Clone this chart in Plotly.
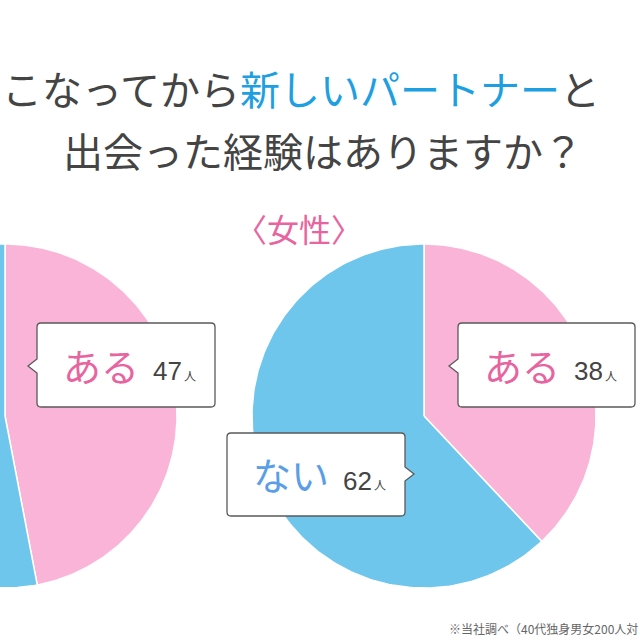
import numpy as np
import plotly.graph_objects as go

# ---- data ----
categories = ["ある", "ない"]
male_counts = [47, 53]
female_counts = [38, 62]
female_title = "〈女性〉"
title_line1_pre = "こなってから"
title_line1_blue = "新しいパートナー"
title_line1_post = "と"
title_line2 = "出会った経験はありますか？"
footnote = "※当社調べ（40代独身男女200人対"
unit = "人"

# ---- style ----
slice_colors = ["#f9b4d7", "#6ec6ec"]
label_colors = ["#e8649f", "#5a9ee6"]
num_color = "#444444"
FONT = "Noto Sans CJK JP"
NUMFONT = "Liberation Sans"
R = 172
pies = [(5, 416, male_counts), (424, 416, female_counts)]

fig = go.Figure()


def wedge(cx, cy, r, a0, a1):
    t = np.linspace(a0, a1, 200)
    xs = np.concatenate([[cx], cx + r * np.sin(t), [cx]])
    ys = np.concatenate([[cy], cy - r * np.cos(t), [cy]])
    return xs, ys


for cx, cy, vals in pies:
    total = sum(vals)
    start = 0.0
    for i, v in enumerate(vals):
        end = start + v / total * 2 * np.pi
        xs, ys = wedge(cx, cy, R, start, end)
        fig.add_trace(go.Scatter(x=xs, y=ys, mode="lines", fill="toself",
                                 fillcolor=slice_colors[i],
                                 line=dict(color="white", width=1.5),
                                 hoverinfo="skip", showlegend=False))
        start = end


def callout(x0, y0, x1, y1, side, py, r=4, pw=9, ph=7):
    p = f"M {x0+r},{y0} L {x1-r},{y0} Q {x1},{y0} {x1},{y0+r} "
    if side == "right":
        p += f"L {x1},{py-ph} L {x1+pw},{py} L {x1},{py+ph} "
    p += f"L {x1},{y1-r} Q {x1},{y1} {x1-r},{y1} L {x0+r},{y1} Q {x0},{y1} {x0},{y1-r} "
    if side == "left":
        p += f"L {x0},{py+ph} L {x0-pw},{py} L {x0},{py-ph} "
    p += f"L {x0},{y0+r} Q {x0},{y0} {x0+r},{y0} Z"
    return dict(type="path", path=p, xref="x", yref="y",
                fillcolor="white", line=dict(color="#5a5a5a", width=1.3))


# callout boxes: (box, pointer side, pointer y, category index, value)
boxes = [
    ((37, 323, 215, 407), "left", 366, 0, male_counts[0]),
    ((458, 323, 635, 407), "left", 366, 0, female_counts[0]),
    ((227, 433, 405, 516), "right", 474, 1, female_counts[1]),
]
shapes = []
ann = []
for (x0, y0, x1, y1), side, py, ci, val in boxes:
    shapes.append(callout(x0, y0, x1, y1, side, py))
    cyb = (y0 + y1) / 2
    ann.append(dict(x=x0 + 24, y=cyb - 1, text=categories[ci], xanchor="left", yanchor="middle",
                    font=dict(family=FONT, size=38, color=label_colors[ci])))
    ann.append(dict(x=x0 + 114, y=cyb + 6, text=str(val), xanchor="left", yanchor="middle",
                    font=dict(family=NUMFONT, size=26, color=num_color)))
    ann.append(dict(x=x0 + 145, y=cyb + 10, text=unit, xanchor="left", yanchor="middle",
                    font=dict(family=FONT, size=12, color=num_color)))

ann.append(dict(x=0, y=88, xanchor="left", yanchor="middle",
                text=f"{title_line1_pre}<span style='color:#1e9fe2'>{title_line1_blue}</span>{title_line1_post}",
                font=dict(family=FONT, size=40, color="#444444")))
ann.append(dict(x=61, y=150, xanchor="left", yanchor="middle", text=title_line2,
                font=dict(family=FONT, size=40, color="#444444")))
ann.append(dict(x=299, y=228, xanchor="center", yanchor="middle", text=female_title,
                font=dict(family=FONT, size=32, color="#e8649f")))
ann.append(dict(x=640, y=628, xanchor="right", yanchor="middle", text=footnote,
                font=dict(family=FONT, size=12, color="#666666")))

for a in ann:
    a.update(xref="x", yref="y", showarrow=False)

fig.update_layout(
    width=640, height=640, margin=dict(l=0, r=0, t=0, b=0),
    paper_bgcolor="white", plot_bgcolor="white",
    xaxis=dict(range=[0, 640], visible=False, fixedrange=True),
    yaxis=dict(range=[640, 0], visible=False, fixedrange=True),
    shapes=shapes, annotations=ann, showlegend=False,
)
fig.write_html("out.html")
